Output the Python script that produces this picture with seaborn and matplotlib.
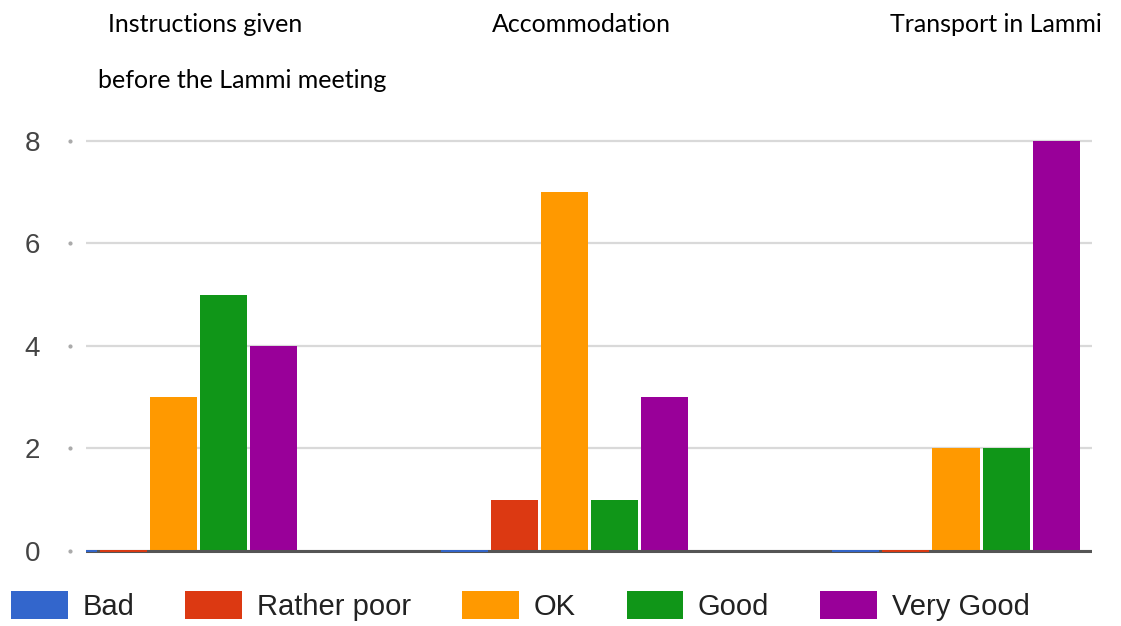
import pandas as pd
import matplotlib
matplotlib.use("Agg")
import matplotlib.pyplot as plt
import seaborn as sns

# --------------------------
# Data
# --------------------------
items = ["Instructions given before the Lammi meeting", "Accommodation", "Transport in Lammi"]
ratings = ["Bad", "Rather poor", "OK", "Good", "Very Good"]
bad = [0, 0, 0]
rather_poor = [0, 1, 0]
ok = [3, 7, 2]
good = [5, 1, 2]
very_good = [4, 3, 8]
colors = ["#3366CC", "#DC3912", "#FF9900", "#109618", "#990099"]
y_ticks = [0, 2, 4, 6, 8]

rows = []
for rating, vals in zip(ratings, [bad, rather_poor, ok, good, very_good]):
    for item, v in zip(items, vals):
        rows.append({"item": item, "rating": rating, "count": v})
df = pd.DataFrame(rows)

# --------------------------
# Plot
# --------------------------
sns.set_style("white")
plt.rcParams["font.family"] = ["Liberation Sans", "DejaVu Sans"]

W, H = 1121, 626
fig = plt.figure(figsize=(W / 100, H / 100), dpi=100)
left, right, top, bottom = 86, 1092, 138.4, 553.5
ax = fig.add_axes([left / W, 1 - bottom / H, (right - left) / W, (bottom - top) / H])

sns.barplot(data=df, x="item", y="count", hue="rating",
            hue_order=ratings, order=items, palette=colors, saturation=1,
            width=0.639, gap=0.06, linewidth=0, errorbar=None, ax=ax)

# zero values drawn as thin lines on the baseline
for p in ax.patches:
    if p.get_height() == 0 and p.get_width() > 0:
        p.set_edgecolor(p.get_facecolor())
        p.set_linewidth(1.4)
        p.set_zorder(3)

ax.set_xlim(-0.2236, 2.3476)
ax.set_ylim(-0.05, 8.05)
ax.set_yticks(y_ticks)
ax.set_yticklabels([str(t) for t in y_ticks])
ax.set_xticks([])
ax.set_xlabel("")
ax.set_ylabel("")
for s in ax.spines.values():
    s.set_visible(False)
ax.yaxis.grid(True, color="#d9d9d9", linewidth=1.6)
ax.set_axisbelow(True)
ax.axhline(0, color="#555555", linewidth=2.2, zorder=1)
ax.tick_params(axis="y", length=0, pad=33, labelsize=20, labelcolor="#444444")
ax.plot([-16 / (right - left)] * len(y_ticks), y_ticks, linestyle="none", marker="o",
        markersize=2, color="#aaaaaa", transform=ax.get_yaxis_transform(), clip_on=False)

# legend at the bottom
handles, labels = ax.get_legend_handles_labels()
if ax.legend_ is not None:
    ax.legend_.remove()
fig.legend(handles, labels, loc="center left", bbox_to_anchor=(11 / W, 1 - 606 / H),
           ncol=5, frameon=False, fontsize=21, handlelength=1.95, handleheight=1.1,
           handletextpad=0.5, columnspacing=1.75, borderpad=0, borderaxespad=0,
           labelcolor="#222222")

# category titles above the chart
tkw = dict(family=["Lato", "DejaVu Sans"], fontsize=18, color="#000000", ha="center", va="center")
fig.text(205 / W, 1 - 25 / H, "Instructions given", **tkw)
fig.text(242 / W, 1 - 80 / H, "before the Lammi meeting", **tkw)
fig.text(581 / W, 1 - 25 / H, "Accommodation", **tkw)
fig.text(996 / W, 1 - 25 / H, "Transport in Lammi", **tkw)

plt.savefig("out.png", dpi=100)
plt.close()
